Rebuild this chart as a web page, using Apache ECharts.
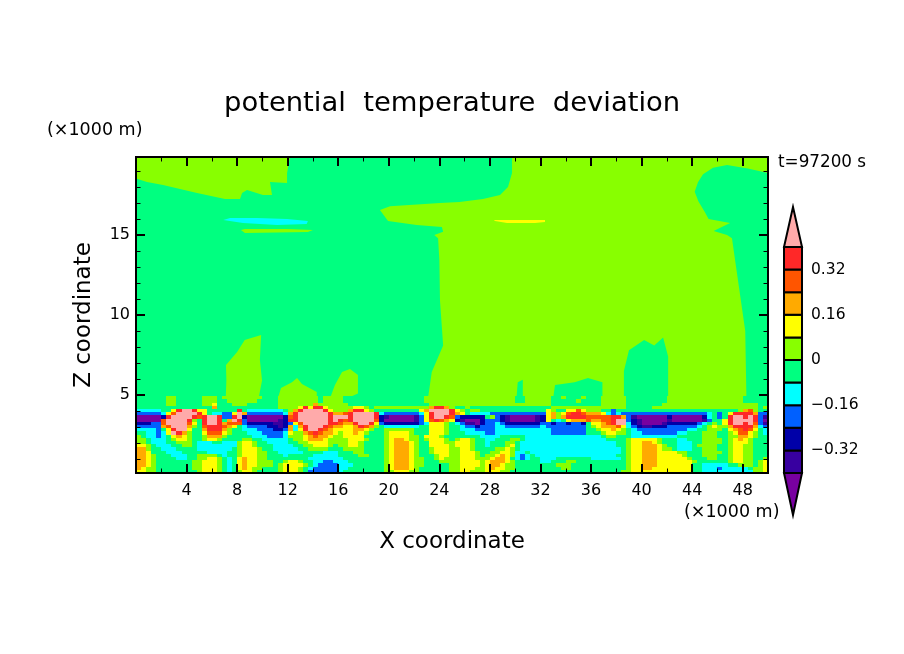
<!DOCTYPE html>
<html><head><meta charset="utf-8">
<script src="https://cdn.jsdelivr.net/npm/echarts@6/dist/echarts.min.js"></script>
<style>html,body{margin:0;padding:0;background:#fff}#c{width:904px;height:654px}</style>
</head><body><div id="c"></div>
<script>
// contour fill colours, lowest class to highest
const levelColors = ['#7800A0','#3800A0','#0000A8','#0060FF','#00FFFF','#00FF80','#88FF00','#FFFF00','#FFAA00','#FF5500','#FF2828','#FFAAAA'];
const levelEdges = [-0.4,-0.32,-0.24,-0.16,-0.08,0,0.08,0.16,0.24,0.32,0.4];
const colorbarTicks = [-0.32,-0.16,0,0.16,0.32];
const xMajor = [4,8,12,16,20,24,28,32,36,40,44,48];
const xMinor = [2,6,10,14,18,22,26,30,34,38,42,46,50];
const zMajor = [5,10,15];
const zMinor = [1,2,3,4,6,7,8,9,11,12,13,14,16,17,18,19];
const cellDx = 0.4, cellDz = 0.2, levelTopZ = 4.925;
// lower layer: contour class per cell (hex digit), top row first, 0.4 km x 0.2 km cells
const levelRows = [
"5555556655 5556665666 6666655566 6666665666 6555555555 5555555666 6666666666 6666655666 6655655565 5566666555 5555566666 6666666666 55555",
"5555556655 5556665566 6666555566 6666665666 6555555555 5555555666 6666666666 6666655666 6655555655 5566666555 5555566666 6666666666 55555",
"5555556655 5556675556 6655555566 6666686666 6655555555 5555555566 6666666666 6666666666 6655555555 5566666555 5555666666 6666666666 66655",
"5555555555 5555585555 5555555566 667a7aa766 6667765666 666666668a a865565555 5555555555 5566666666 6666666555 5566666666 6666666666 66656",
"44444557ab ba77555555 a544444445 68abbbba76 668aa76555 55555578bb bba7656655 5555555555 5765577976 6655355555 5555555555 5555555556 89655",
"33333479bb bba7544337 b833333334 8abbbbbba8 89abbbba43 33333347ab bba8754444 3333333333 378679aa98 8874343333 3333333333 33345357aa aa833",
"000002abbb ba9abba33a b200000002 9abbbbbbab bbabbbba21 00000137ab ba93222225 6321000001 27868aaaa9 9999aa8310 0000020000 0024535abb aba31",
"000009bbbb a65abba58b a300000012 aabbbbbbab a9abbbb920 000001379a 9872100023 3321000001 2754578889 8899abb321 0000010000 0013557abb bba30",
"222339bbbb 975abba899 9322222112 379bbbbbaa 988abba732 2222223477 7654311023 3432222222 3323323325 7789abb421 0000122222 2345657abb ab931",
"3333389bbb 8659aaa987 5433332212 848abbba98 8778a98654 4444445577 7655433233 3443333333 4333333335 6788897432 1122233333 3456766 8aa aa843",
"4444357abb 7558aaa865 5444333223 847abba987 7778876556 6666655577 7655444333 3444444444 4433333335 5677876543 3333333334 4556665789 a9754",
"5544347ba8 6557999765 5544433334 7668 9a9887 6778765556 7777655577 7655544443 3444444444 4433333335 5567766544 3333333445 5566655679 97654",
"6544345787 6556888655 5554443334 6667898876 6777755556 7777665777 6555555544 4455555444 4444444444 4456655544 4444444555 5566655668 87655",
"6654445677 6556776555 5665544444 5667888766 6677765556 7887665677 7656776554 4555665444 4444444444 4445555677 7776555445 5566665678 76555",
"6654445566 6544455444 6776554444 5566777766 6677655556 7888765577 7667776554 5556654444 4444444444 4444455677 8876555444 5566665677 76555",
"7765444556 6544444444 6776555444 4556677765 6677655556 7888765577 7767776554 5556754444 4444444444 4444455677 8887655444 5666655677 66555",
"8865544455 5544444445 6777655444 4455666655 5666655556 7888765567 7766776555 5667654444 4444444444 4444445677 8887665444 5566655677 66555",
"8875554445 5555444455 6777665544 4445555444 5556655556 7888765567 7766777655 6677644544 4444444444 4444445677 8887777665 5566665677 66555",
"8876555444 5566665455 6777665554 5555544444 5555665556 7888765556 7766777656 6787643454 4444444444 4444455677 8887777765 5566655677 66555",
"8876555544 5566776545 7877665555 5555444444 4555555556 7888766556 7666777666 7887543455 4445555555 4444445677 8887777776 5556655677 66556",
"8876555555 5667776545 7877666556 7765544334 4455555556 7888766555 6666777767 8887655555 4455566555 5555555677 8887777777 6555555677 66567",
"8876555555 5667776545 7877666567 7776543333 4445555556 7888766555 5566777767 8876655555 5556665555 5555555677 8887777777 5544444556 66567",
"8766555555 5667776545 7876655567 7765433333 4455555556 7888765555 5566777667 8776655555 5555665555 5555555677 8877777777 5544434444 45667",
"7766555555 5567776545 6776555567 7765333333 4555555556 6777665555 5566776667 7766555555 5555555555 5555556677 7777777777 5544444444 44667"
];
// upper layer: contour outlines as [x km, z km], painted in this order over the background class
const background5 = [[0,0.125],[50,0.125],[50,19.875],[0,19.875]];
const region6A = [[12.18,19.875],[11.95,18.875],[11.95,18.25],[10.6,18.31],[10.76,17.5],[10.05,17.5],[8.78,17.81],[8.39,17.63],[8.23,17.25],[7.04,17.25],[4.83,17.63],[2.14,18.13],[0.87,18.31],[0,18.53],[0,19.875]];
const region6B = [[29.75,19.875],[50,19.875],[50,18.875],[48.4,19.15],[46.76,19.38],[45.65,19.2],[44.86,18.8],[44.46,18.3],[44.2,17.7],[44.5,17.1],[45,16.44],[45.3,16],[47,15.75],[45.7,15.25],[46.76,15],[47.15,14.8],[47.4,13.4],[48.2,9],[48.3,4.4],[23.1,4.4],[23.1,4.8],[23.4,6.44],[24.3,8.1],[24.05,10.9],[24,13.4],[23.9,14.8],[23.6,15],[24.3,15.2],[24.2,15.5],[22.2,15.625],[19.94,15.875],[19.3,16.56],[20.1,16.8],[24.05,17],[25.6,17.06],[27.45,17.25],[28.8,17.5],[29.43,18],[29.75,18.875]];
const dome5 = [[38.6,4.5],[38.6,6.5],[39,7.8],[40.2,8.44],[41,8.1],[41.7,8.6],[42.1,7.4],[42.1,4.5]];
const patch5 = [[33,4.8],[33.15,5.625],[34.7,5.8],[35.76,6.06],[36.9,5.8],[36.9,4.8]];
const finger5 = [[30.1,4.8],[30.2,5.8],[30.6,5.95],[30.6,4.8]];
const hill6E = [[7.1,4.8],[7.15,5.9],[7.12,6.875],[8,7.69],[8.6,8.44],[9.9,8.75],[9.8,7.2],[9.97,5.9],[9.7,4.8]];
const hill6F = [[11.23,4.8],[11.47,5.44],[12.34,5.8],[12.74,6.06],[13.13,5.69],[14.3,5.19],[14.3,4.8]];
const hill6G = [[15.35,4.8],[15.74,5.625],[16.3,6.44],[16.93,6.625],[17.56,6.25],[17.56,5.1],[16.7,4.8]];
const lens4 = [[6.9,15.94],[7.44,16.06],[9.57,16.06],[11.95,16],[13.6,15.875],[13.5,15.69],[11.16,15.625],[8.47,15.75]];
const lens6 = [[8.3,15.31],[8.62,15.375],[11.95,15.375],[14,15.31],[13.6,15.19],[8.62,15.125]];
const lens7 = [[28.32,15.94],[32.36,15.94],[32.36,15.81],[31.57,15.75],[29.35,15.75],[28.4,15.875]];

const polygons = [[5,background5],[6,region6A],[6,region6B],[5,dome5],[5,patch5],[5,finger5],[6,hill6E],[6,hill6F],[6,hill6G],[4,lens4],[6,lens6],[7,lens7]];
const xMin=0,xMax=50,zMin=0.125,zMax=19.875;
const FONT='"DejaVu Sans"';

// run-merge the class matrix
const runs=[];
levelRows.forEach((raw,r)=>{
  const s=raw.replace(/ /g,'');
  let st=0;
  for(let c=1;c<=s.length;c++){
    if(c===s.length||s[c]!==s[st]){
      runs.push([st*cellDx,c*cellDx,levelTopZ-(r+1)*cellDz,levelTopZ-r*cellDz,parseInt(s[st],16)]);
      st=c;
    }
  }
});
const rect=(g)=>({left:136,top:157,width:632,height:316,...g});
const mkX=(gi,pos,vals,len,w,label,extra)=>({type:'value',gridIndex:gi,position:pos,min:xMin,max:xMax,z:10,
  axisLine:{show:true,onZero:false,lineStyle:{color:'#000',width:2}},splitLine:{show:false},
  axisTick:{show:true,inside:true,length:len,customValues:vals,lineStyle:{color:'#000',width:w}},
  axisLabel:label?{show:true,customValues:vals,margin:10,color:'#000',fontFamily:FONT,fontSize:16}:{show:false},...extra});
const mkY=(gi,pos,vals,len,w,label,extra)=>({type:'value',gridIndex:gi,position:pos,min:zMin,max:zMax,z:10,
  axisLine:{show:true,onZero:false,lineStyle:{color:'#000',width:2}},splitLine:{show:false},
  axisTick:{show:true,inside:true,length:len,customValues:vals,lineStyle:{color:'#000',width:w}},
  axisLabel:label?{show:true,customValues:vals,margin:6,color:'#000',fontFamily:FONT,fontSize:16}:{show:false},...extra});

const txt=(l,t,s,size,extra)=>({type:'text',left:l,top:t,style:{text:s,fill:'#000',font:size+'px '+FONT,...extra}});

const chart=echarts.init(document.getElementById('c'),null,{renderer:'canvas'});
chart.setOption({
  animation:false,backgroundColor:'#fff',
  grid:[rect({}),rect({}),{left:784,top:207,width:18,height:308}],
  xAxis:[
    mkX(0,'bottom',xMajor,9,2,true,{name:'X coordinate',nameLocation:'middle',nameGap:58,nameTextStyle:{color:'#000',fontFamily:FONT,fontSize:23}}),
    mkX(0,'top',xMajor,9,2,false),
    mkX(1,'bottom',xMinor,4.5,1,false),
    mkX(1,'top',xMinor,4.5,1,false),
    {type:'value',gridIndex:2,min:0,max:1,show:false}
  ],
  yAxis:[
    mkY(0,'left',zMajor,9,2,true,{name:'Z coordinate',nameLocation:'middle',nameGap:40,nameRotate:90,nameTextStyle:{color:'#000',fontFamily:FONT,fontSize:23}}),
    mkY(0,'right',zMajor,9,2,false),
    mkY(1,'left',zMinor,4.5,1,false),
    mkY(1,'right',zMinor,4.5,1,false),
    {type:'value',gridIndex:2,position:'right',min:-0.5487,max:0.5416,z:10,
     axisLine:{show:false},axisTick:{show:false},splitLine:{show:false},
     axisLabel:{show:true,customValues:colorbarTicks,margin:9,color:'#000',fontFamily:FONT,fontSize:15.5,
       formatter:v=>v===0?'0':(v<0?'\u2212':'')+Math.abs(v).toFixed(2)}}
  ],
  series:[
    {type:'custom',xAxisIndex:0,yAxisIndex:0,z:2,silent:true,clip:true,
     data:polygons.map((p,i)=>[i,p[0]]),
     encode:{x:[],y:[]},
     renderItem:(params,api)=>{
       const p=polygons[api.value(0)];
       return {type:'polygon',shape:{points:p[1].map(q=>api.coord(q))},style:{fill:levelColors[p[0]]}};
     }},
    {type:'custom',xAxisIndex:0,yAxisIndex:0,z:3,silent:true,clip:true,
     data:runs,encode:{x:[0,1],y:[2,3]},
     renderItem:(params,api)=>{
       const a=api.coord([api.value(0),api.value(3)]),b=api.coord([api.value(1),api.value(2)]);
       const x=Math.round(a[0]),y=Math.round(a[1]);
       return {type:'rect',shape:{x,y,width:Math.round(b[0])-x,height:Math.round(b[1])-y},style:{fill:levelColors[api.value(4)]}};
     }},
    {type:'custom',xAxisIndex:4,yAxisIndex:4,z:5,silent:true,clip:false,
     data:[[levelEdges[0],-0.5487,0]].concat(levelEdges.slice(0,-1).map((e,i)=>[e,levelEdges[i+1],i+1])).concat([[levelEdges[10],0.5416,11]]),
     encode:{x:[],y:[0,1]},
     renderItem:(params,api)=>{
       const lo=api.value(0),hi=api.value(1),k=api.value(2);
       const P=(x,y)=>api.coord([x,y]);
       const pts=(k===0||k===11)?[P(0,lo),P(1,lo),P(0.5,hi)]:[P(0,lo),P(1,lo),P(1,hi),P(0,hi)];
       return {type:'polygon',shape:{points:pts},style:{fill:levelColors[k],stroke:'#000',lineWidth:2,lineJoin:'miter'}};
     }}
  ],
  graphic:[
    txt(224,90,'potential  temperature  deviation',27.4),
    txt(47,121,'(×1000 m)',17.5),
    txt(684,503,'(×1000 m)',17.5),
    txt(778,154,'t=97200 s',16.8)
  ]
});
</script></body></html>
